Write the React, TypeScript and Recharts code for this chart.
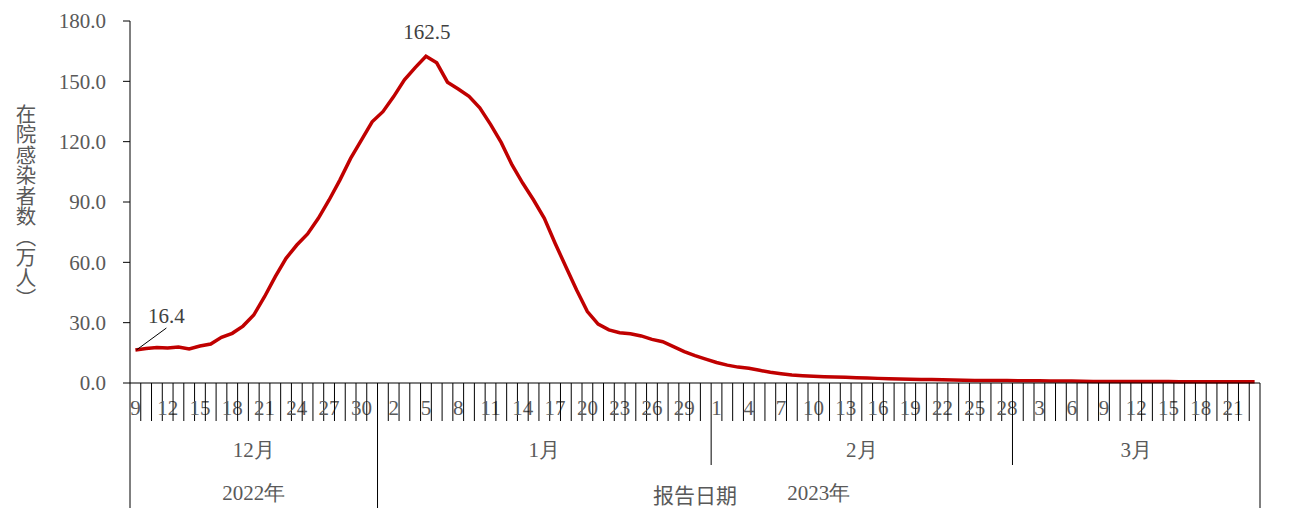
import React from "react";
import { LineChart, Line, XAxis, YAxis } from "recharts";

// 报告日期: 2022-12-09 .. 2023-03-23
const monthNames = ["12月", "1月", "2月", "3月"];
const monthStartDay = [9, 1, 1, 1];
const monthDays = [23, 31, 28, 23];
const monthYear = [0, 1, 1, 1];
const yearNames = ["2022年", "2023年"];
const yTicks = [0, 30, 60, 90, 120, 150, 180];

// 在院感染者数（万人）
const inHospital = [
  // 12月 9..31
  16.4, 17.2, 17.7, 17.4, 17.9, 16.9, 18.4, 19.4, 22.7, 24.7, 28.3, 33.8,
  42.9, 52.9, 62.0, 68.6, 74.1, 81.9, 91.0, 100.9, 111.7, 120.8, 129.9,
  // 1月
  134.9, 142.4, 150.7, 156.8, 162.5, 159.2, 149.6, 146.2, 142.5, 136.8,
  128.6, 119.5, 108.4, 99.3, 91.0, 81.9, 69.5, 57.8, 46.2, 35.5, 29.3, 26.4,
  25.0, 24.5, 23.4, 21.7, 20.5, 18.1, 15.6, 13.6, 11.9,
  // 2月
  10.2, 8.9, 7.9, 7.3, 6.3, 5.3, 4.6, 4.0, 3.6, 3.3, 3.1, 3.0, 2.8, 2.6,
  2.5, 2.3, 2.1, 2.0, 1.9, 1.8, 1.7, 1.6, 1.5, 1.4, 1.3, 1.3, 1.2, 1.2,
  // 3月 1..23
  1.1, 1.1, 1.1, 1.0, 1.0, 1.0, 0.9, 0.8, 0.8, 0.8, 0.7, 0.7, 0.7, 0.7,
  0.7, 0.6, 0.6, 0.6, 0.6, 0.6, 0.6, 0.6, 0.6,
];

const W = 1274;
const H = 504;
const M = { top: 13, right: 22, bottom: 4, left: 0 };
const Y_W = 122;
const X_H = 125;
const PLOT_W = W - M.left - M.right - Y_W;
const STEP = PLOT_W / inHospital.length;

const GRAY = "#595959";
const SERIF = '"Times New Roman", "Liberation Serif", serif';
const CJK = '"Noto Sans CJK SC", sans-serif';

type Row = {
  key: string;
  day: number;
  month: number;
  monthFirst: boolean;
  yearFirst: boolean;
  v: number;
};

const rows: Row[] = [];
monthNames.forEach((_, m) => {
  for (let d = 0; d < monthDays[m]; d++) {
    rows.push({
      key: `${m}-${d}`,
      day: monthStartDay[m] + d,
      month: m,
      monthFirst: d === 0,
      yearFirst: d === 0 && (m === 0 || monthYear[m] !== monthYear[m - 1]),
      v: inHospital[rows.length],
    });
  }
});

const peakIndex = inHospital.indexOf(Math.max(...inHospital));

const yearDays = (y: number) =>
  monthDays.reduce((s, n, m) => (monthYear[m] === y ? s + n : s), 0);

function DayTick(props: any) {
  const { x, y, index } = props;
  const r = rows[index];
  const left = x - STEP / 2;
  const len = r.yearFirst ? 125 : r.monthFirst ? 82 : 38;
  return (
    <g>
      <line x1={left} x2={left} y1={y} y2={y + len} stroke="#000" strokeWidth={1} />
      {index === rows.length - 1 && (
        <line x1={x + STEP / 2} x2={x + STEP / 2} y1={y} y2={y + 125} stroke="#000" strokeWidth={1} />
      )}
      {index % 3 === 0 && (
        <text x={x} y={y + 32} textAnchor="middle" fill={GRAY} fontSize={21} fontFamily={SERIF}>
          {r.day}
        </text>
      )}
      {r.monthFirst && (
        <text
          x={left + (monthDays[r.month] * STEP) / 2}
          y={y + 74}
          textAnchor="middle"
          fill={GRAY}
          fontSize={21}
          fontFamily={SERIF}
        >
          {monthNames[r.month]}
        </text>
      )}
      {r.yearFirst && (
        <text
          x={left + (yearDays(monthYear[r.month]) * STEP) / 2}
          y={y + 117}
          textAnchor="middle"
          fill={GRAY}
          fontSize={21}
          fontFamily={SERIF}
        >
          {yearNames[monthYear[r.month]]}
        </text>
      )}
    </g>
  );
}

function YTitle(props: any) {
  const vb = props.viewBox || { x: 0, y: M.top, width: Y_W, height: 362 };
  return (
    <text
      x={vb.x + 18}
      y={vb.y + vb.height / 2 + 4}
      textAnchor="middle"
      fill={GRAY}
      fontSize={20.5}
      fontFamily={CJK}
      style={{ writingMode: "vertical-rl", textOrientation: "mixed" }}
    >
      在院感染者数（万人）
    </text>
  );
}

function PointLabel(props: any) {
  const { x, y, index, value } = props;
  if (index === 0) {
    return (
      <g>
        <line x1={x + 1} y1={y} x2={x + 31} y2={y - 22} stroke="#000" strokeWidth={1} />
        <text x={x + 31} y={y - 27} textAnchor="middle" fill="#404040" fontSize={21} fontFamily={SERIF}>
          {Number(value).toFixed(1)}
        </text>
      </g>
    );
  }
  if (index === peakIndex) {
    return (
      <text x={x + 1} y={y - 17} textAnchor="middle" fill="#404040" fontSize={21} fontFamily={SERIF}>
        {Number(value).toFixed(1)}
      </text>
    );
  }
  return null;
}

export default function App() {
  return (
    <div style={{ width: W, height: H }}>
      <LineChart width={W} height={H} data={rows} margin={M}>
        <XAxis
          dataKey="key"
          type="category"
          interval={0}
          height={X_H}
          padding={{ left: STEP / 2, right: STEP / 2 }}
          tickLine={false}
          tickSize={0}
          tickMargin={0}
          axisLine={{ stroke: "#000", strokeWidth: 1 }}
          tick={<DayTick />}
          label={{
            value: "报告日期",
            position: "insideBottom",
            offset: 5,
            fill: GRAY,
            fontSize: 21,
            fontFamily: CJK,
          }}
        />
        <YAxis
          domain={[0, 180]}
          ticks={yTicks}
          interval={0}
          width={Y_W}
          tickSize={7}
          tickMargin={17}
          tickFormatter={(v: number) => v.toFixed(1)}
          tick={{ fill: GRAY, fontSize: 21, fontFamily: SERIF }}
          axisLine={{ stroke: "#000", strokeWidth: 1 }}
          tickLine={{ stroke: "#000", strokeWidth: 1 }}
          label={<YTitle />}
        />
        <Line
          type="linear"
          dataKey="v"
          stroke="#C00000"
          strokeWidth={3.5}
          dot={false}
          activeDot={false}
          isAnimationActive={false}
          label={<PointLabel />}
        />
      </LineChart>
    </div>
  );
}
